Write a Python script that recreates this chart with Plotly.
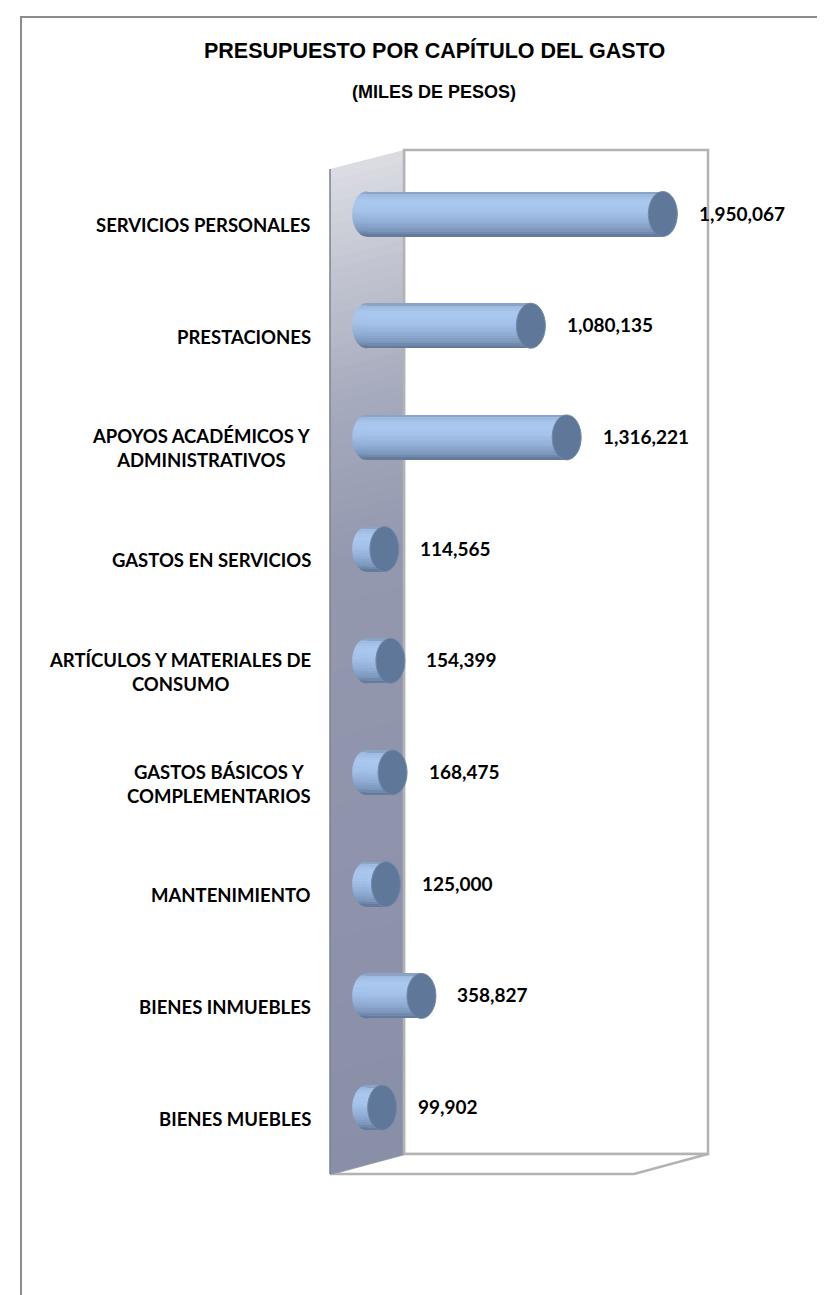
import math
import plotly.graph_objects as go

# ---------------- data ----------------
categories = [
    "SERVICIOS PERSONALES",
    "PRESTACIONES",
    "APOYOS ACADÉMICOS Y<br>ADMINISTRATIVOS",
    "GASTOS EN SERVICIOS",
    "ARTÍCULOS Y MATERIALES DE<br>CONSUMO",
    "GASTOS BÁSICOS Y<br>COMPLEMENTARIOS",
    "MANTENIMIENTO",
    "BIENES INMUEBLES",
    "BIENES MUEBLES",
]
values = [1950067, 1080135, 1316221, 114565, 154399, 168475, 125000, 358827, 99902]
title_text = "PRESUPUESTO POR CAPÍTULO DEL GASTO"
subtitle_text = "(MILES DE PESOS)"

# ---------------- layout geometry (pixels) ----------------
W, H = 825, 1295
X0_PX = 359.0            # pixel of value 0
PX_PER_UNIT = 151.7 / 1e6
Y0_PX = 206.0            # pixel of first category centre
ROW_PX = 111.7
BAR_PX = 45.0
CAP_RX_PX = 14.5


def xd(px):
    return (px - X0_PX) / PX_PER_UNIT


def yd(py):
    return (py - Y0_PX) / ROW_PX


def pxp(px):
    return px / W


def pyp(py):
    return 1 - py / H


def lerp_col(profile, t):
    for (t1, c1), (t2, c2) in zip(profile[:-1], profile[1:]):
        if t <= t2:
            f = 0 if t2 == t1 else min(max((t - t1) / (t2 - t1), 0), 1)
            c = [round(c1[k] + (c2[k] - c1[k]) * f) for k in range(3)]
            return f"rgb({c[0]},{c[1]},{c[2]})"
    c = profile[-1][1]
    return f"rgb({c[0]},{c[1]},{c[2]})"


def hx(s):
    return tuple(int(s[i:i + 2], 16) for i in (1, 3, 5))


idx = list(range(len(categories)))
T = BAR_PX / ROW_PX
R = CAP_RX_PX / PX_PER_UNIT

# shading profile across the cylinder (0 = top edge, 1 = bottom edge)
shade = [(0.0, hx("#7c91b0")), (0.06, hx("#9db9e0")), (0.22, hx("#abc9f0")),
         (0.45, hx("#a5c2ea")), (0.68, hx("#92aed6")), (0.86, hx("#7d97bc")),
         (1.0, hx("#5e7494"))]
NS = 18
strips = []
for k in range(NS):
    a, b = k / NS, (k + 1) / NS
    strips.append((a, b, lerp_col(shade, (a + b) / 2)))

fig = go.Figure()
for a, b, col in strips:
    ov = 0.004 if b < 1 else 0
    fig.add_trace(go.Bar(
        orientation="h", y=idx, x=values, base=0,
        width=(b - a + ov) * T, offset=-T / 2 + a * T,
        marker=dict(color=col, line=dict(width=0)),
        hoverinfo="skip", showlegend=False,
    ))

shapes = []
# outer frame
shapes.append(dict(type="rect", xref="paper", yref="paper",
                   x0=pxp(13), x1=pxp(822), y0=pyp(9), y1=pyp(1310),
                   line=dict(color="#8c8c8c", width=2), fillcolor="rgba(0,0,0,0)", layer="below"))
# back wall
shapes.append(dict(type="rect", xref="paper", yref="paper",
                   x0=pxp(396), x1=pxp(700), y0=pyp(142), y1=pyp(1146),
                   line=dict(color="#b3b3b3", width=2.5), fillcolor="white", layer="below"))
# floor
shapes.append(dict(type="path", xref="paper", yref="paper",
                   path=f"M {pxp(322)} {pyp(1166)} L {pxp(626)} {pyp(1166)} L {pxp(700)} {pyp(1146)} L {pxp(396)} {pyp(1146)} Z",
                   line=dict(color="#b3b3b3", width=2.5), fillcolor="white", layer="below"))

# side wall with vertical gradient (strips)
wall = [(161, hx("#dcdde3")), (260, hx("#c4c7d2")), (400, hx("#a5aabd")),
        (560, hx("#9398af")), (1166, hx("#8a8fa8"))]
N = 90
for k in range(N):
    t0, t1 = k / N, (k + 1) / N
    ly0 = 161 + t0 * (1166 - 161)
    ly1 = 161 + t1 * (1166 - 161) + 0.8
    ry0 = 142 + t0 * (1146 - 142)
    ry1 = 142 + t1 * (1146 - 142) + 0.8
    shapes.append(dict(type="path", xref="paper", yref="paper",
                       path=f"M {pxp(322)} {pyp(ly0)} L {pxp(396)} {pyp(ry0)} L {pxp(396)} {pyp(ry1)} L {pxp(322)} {pyp(ly1)} Z",
                       line=dict(width=0), fillcolor=lerp_col(wall, (ly0 + ly1) / 2), layer="below"))
shapes.append(dict(type="line", xref="paper", yref="paper",
                   x0=pxp(322), x1=pxp(322), y0=pyp(161), y1=pyp(1166),
                   line=dict(color="#7d808c", width=1.5), layer="below"))
shapes.append(dict(type="line", xref="paper", yref="paper",
                   x0=pxp(396), x1=pxp(396), y0=pyp(142), y1=pyp(1146),
                   line=dict(color="#b3b3b3", width=2.5), layer="below"))

# rounded back end of cylinders (data coords, below bars), shaded per strip
for i in idx:
    for a, b, col in strips:
        ua, ub = 2 * a - 1, 2 * b - 1
        pts = []
        nsub = 4
        for s in range(nsub + 1):
            u = ua + (ub - ua) * s / nsub
            xl = -R * math.sqrt(max(0.0, 1 - u * u))
            pts.append((xl, i + u * T / 2))
        path = f"M 0 {i + ua * T / 2} " + " ".join(f"L {x} {y}" for x, y in pts) + f" L 0 {i + ub * T / 2} Z"
        shapes.append(dict(type="path", xref="x", yref="y", path=path,
                           line=dict(width=0.6, color=col), fillcolor=col, layer="below"))

# end caps (data coords, above bars)
for i, v in zip(idx, values):
    shapes.append(dict(type="circle", xref="x", yref="y",
                       x0=v - R, x1=v + R, y0=i - T / 2, y1=i + T / 2,
                       line=dict(color="#7089aa", width=1), fillcolor="#5f7899", layer="above"))

annotations = []
annotations.append(dict(text=title_text, xref="paper", yref="paper", x=pxp(426), y=pyp(42),
                        xanchor="center", yanchor="middle", showarrow=False,
                        font=dict(family="Liberation Sans", size=21.5, color="black", weight="bold")))
annotations.append(dict(text=subtitle_text, xref="paper", yref="paper", x=pxp(426), y=pyp(84),
                        xanchor="center", yanchor="middle", showarrow=False,
                        font=dict(family="Liberation Sans", size=18, color="black", weight="bold")))
for i, c in zip(idx, categories):
    annotations.append(dict(text=c, xref="paper", yref="y", x=pxp(305), y=i, yshift=-11,
                            xanchor="right", yanchor="middle", align="center", showarrow=False,
                            font=dict(family="Lato", size=18.5, color="black", weight="bold")))
for i, v in zip(idx, values):
    annotations.append(dict(text=f"{v:,}", xref="x", yref="y", x=v, y=i, xshift=34, yshift=1,
                            xanchor="left", yanchor="middle", showarrow=False,
                            font=dict(family="Lato", size=19, color="black", weight="bold")))

fig.update_layout(
    width=W, height=H, autosize=False,
    margin=dict(l=0, r=0, t=0, b=0, pad=0),
    paper_bgcolor="white", plot_bgcolor="rgba(0,0,0,0)",
    barmode="overlay", bargap=0,
    showlegend=False,
    xaxis=dict(range=[xd(0), xd(W)], domain=[0, 1], visible=False, fixedrange=True),
    yaxis=dict(range=[yd(H), yd(0)], domain=[0, 1], visible=False, fixedrange=True),
    shapes=shapes,
    annotations=annotations,
)

fig.write_html("out.html")
